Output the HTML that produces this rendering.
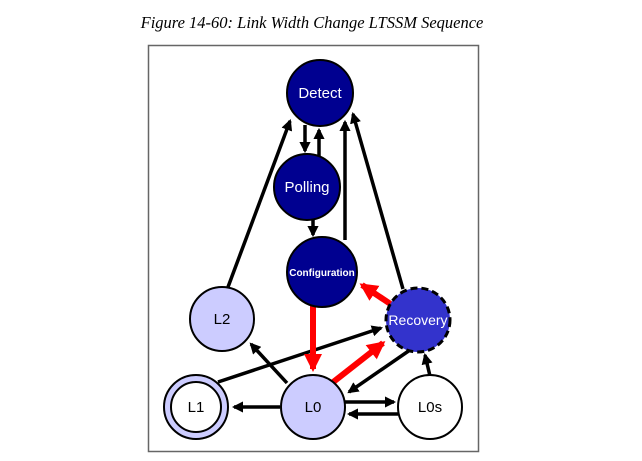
<!DOCTYPE html>
<html><head><meta charset="utf-8"><style>
body{margin:0;background:#fff;width:642px;height:461px;overflow:hidden}
svg{display:block}
text{font-family:"Liberation Sans",sans-serif}
</style></head><body>
<svg width="642" height="461" viewBox="0 0 642 461">
<defs>
<marker id="ab" markerWidth="3.2" markerHeight="3.2" refX="2.6" refY="1.6" orient="auto" markerUnits="strokeWidth"><path d="M0,0 L3.2,1.6 L0,3.2 z" fill="#000"/></marker>
<marker id="ar" markerWidth="3" markerHeight="3" refX="2.5" refY="1.5" orient="auto" markerUnits="strokeWidth"><path d="M0,0 L3,1.5 L0,3 z" fill="#f00"/></marker>
</defs>
<text x="312" y="28" text-anchor="middle" font-style="italic" font-size="16.5" style="font-family:'Liberation Serif',serif">Figure 14-60: Link Width Change LTSSM Sequence</text>
<rect x="148.5" y="45.5" width="330" height="406" fill="#fff" stroke="#666" stroke-width="1.5"/>
<g stroke="#000" stroke-width="3.5" fill="none" marker-end="url(#ab)">
<line x1="228" y1="287" x2="290" y2="121"/>
<line x1="305" y1="125" x2="305" y2="151"/>
<line x1="319" y1="157" x2="319" y2="130"/>
<line x1="313" y1="220" x2="313" y2="235"/>
<line x1="345" y1="240" x2="345" y2="122"/>
<line x1="403" y1="289" x2="353" y2="114"/>
<line x1="218" y1="382" x2="381" y2="328"/>
<line x1="287" y1="383" x2="251" y2="344"/>
<line x1="410" y1="350" x2="349" y2="392"/>
<line x1="280" y1="407" x2="234" y2="407"/>
<line x1="345" y1="402" x2="394" y2="402"/>
<line x1="398" y1="414" x2="349" y2="414"/>
<line x1="430" y1="376" x2="425" y2="355"/>
</g>
<g stroke="#f00" stroke-width="6" fill="none" marker-end="url(#ar)">
<line x1="392" y1="305" x2="362" y2="285"/>
<line x1="313" y1="306" x2="313" y2="369"/>
<line x1="332" y1="383" x2="383" y2="343"/>
</g>
<g stroke="#000" stroke-width="2">
<circle cx="320" cy="93" r="33" fill="#000090"/>
<circle cx="307" cy="187" r="33" fill="#000090"/>
<circle cx="322" cy="272" r="35" fill="#000090"/>
<circle cx="222" cy="319" r="32" fill="#ccccff"/>
<circle cx="418" cy="320" r="32" fill="#3333cc" stroke-width="3" stroke-dasharray="7,4"/>
<circle cx="196" cy="407" r="32" fill="#ccccff"/>
<circle cx="196" cy="407" r="25" fill="#fff"/>
<circle cx="313" cy="407" r="32" fill="#ccccff"/>
<circle cx="430" cy="407" r="32" fill="#fff"/>
</g>
<g text-anchor="middle" font-size="15">
<text x="320" y="98" fill="#fff">Detect</text>
<text x="307" y="192" fill="#fff">Polling</text>
<text x="322" y="276" fill="#fff" font-size="10" font-weight="bold">Configuration</text>
<text x="222" y="324" fill="#000">L2</text>
<text x="418" y="325" fill="#fff" font-size="14">Recovery</text>
<text x="196" y="412" fill="#000">L1</text>
<text x="313" y="412" fill="#000">L0</text>
<text x="430" y="412" fill="#000">L0s</text>
</g>
</svg>
</body></html>
